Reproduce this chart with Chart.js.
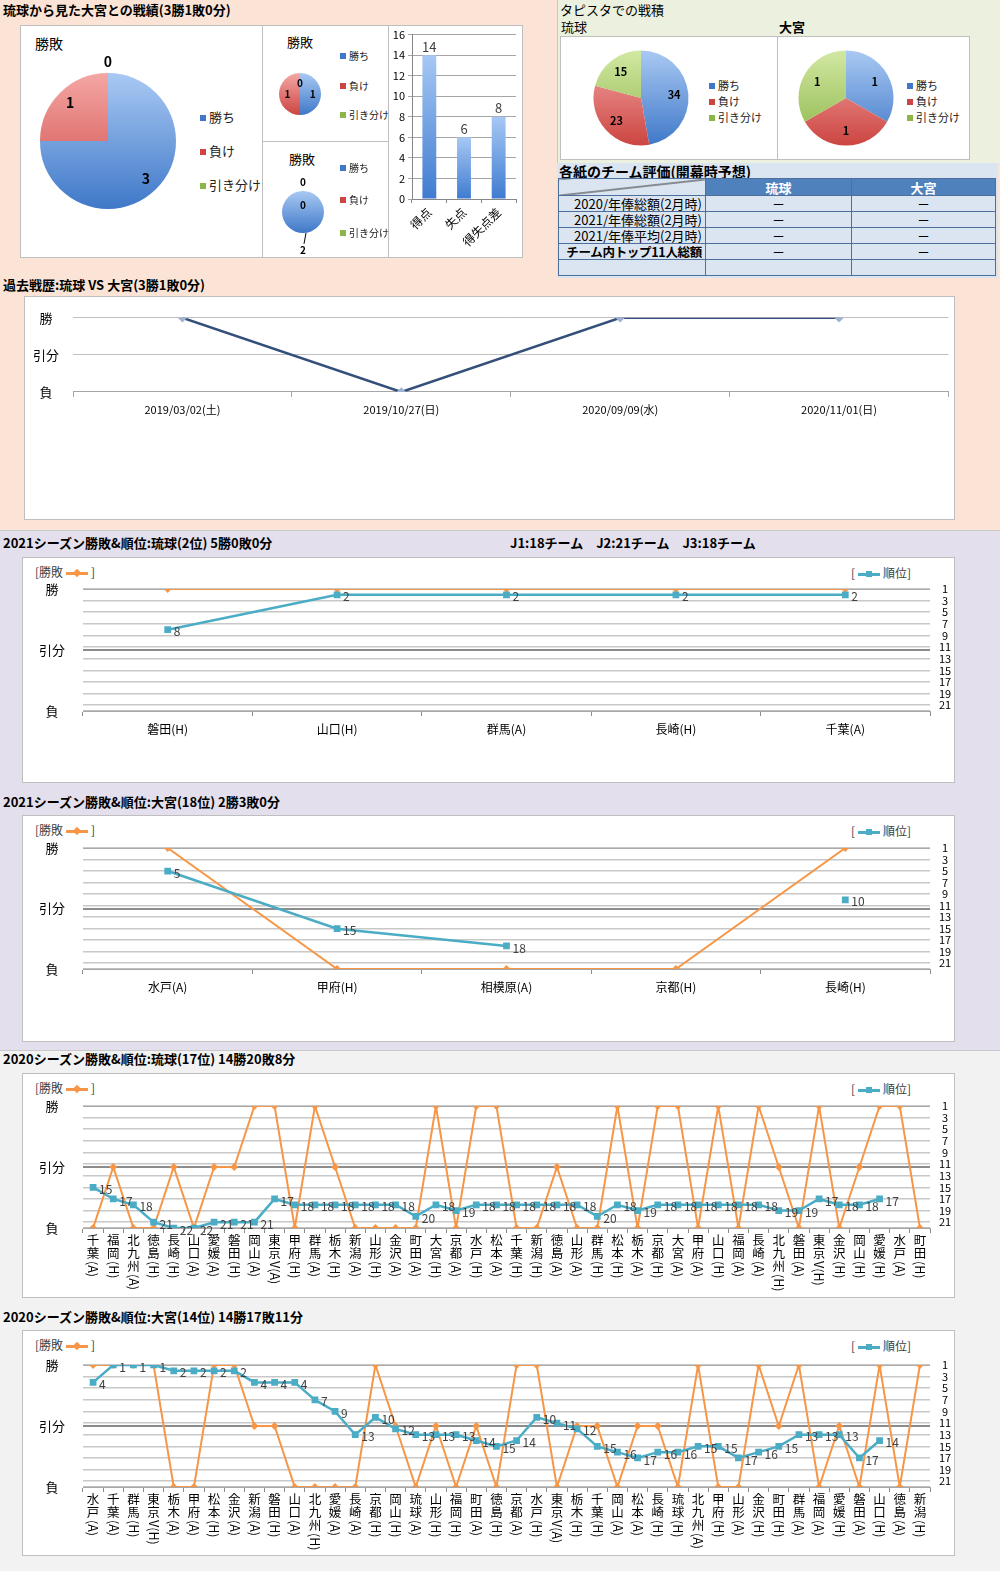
<!DOCTYPE html>
<html lang="ja">
<head>
<meta charset="utf-8">
<title>琉球 vs 大宮</title>
<script src="https://cdn.jsdelivr.net/npm/chart.js@4.4.1/dist/chart.umd.min.js"></script>
<style>
body { margin: 0; width: 1000px; height: 1571px; position: relative; overflow: hidden; font-family: "Noto Sans CJK JP", sans-serif; color: #000; }
.bg { position: absolute; }
.box { position: absolute; background: #fff; border: 1px solid #bfbfbf; box-sizing: border-box; }
.ttl { position: absolute; font-weight: bold; font-size: 13px; line-height: 18px; white-space: nowrap; }
.txt { position: absolute; font-size: 13px; line-height: 18px; white-space: nowrap; }
.lg { position: absolute; font-size: 11px; line-height: 14px; white-space: nowrap; color: #222; }
.lg i { display: inline-block; width: 6px; height: 6px; margin-right: 3px; vertical-align: 1px; }
.slg { position: absolute; font-size: 12px; line-height: 16px; white-space: nowrap; color: #404040; }
.mk { display: inline-block; position: relative; width: 22px; height: 10px; vertical-align: -1px; margin: 0 3px; }
.mk b { position: absolute; left: 0; right: 0; top: 4px; height: 3px; }
.mk s { position: absolute; left: 8px; top: 2px; width: 6px; height: 6px; }
canvas { position: absolute; }
#hyoka { position: absolute; left: 558px; top: 178px; border-collapse: collapse; font-size: 13px; table-layout: fixed; }
#hyoka td { border: 1px solid #4d6f9c; padding: 0; height: 15px; line-height: 15px; background: #dbe5f1; text-align: center; white-space: nowrap; overflow: hidden; }
#hyoka td.rh { text-align: right; padding-right: 3px; }
#hyoka td.hd { background: #4f81bd; color: #fff; font-weight: bold; }
</style>
</head>
<body>
<div class="bg" style="left:0;top:0;width:1000px;height:530px;background:#fbe4d5"></div>
<div class="bg" style="left:557px;top:0;width:443px;height:163px;background:#ebf1de;border-left:1px solid #c9c9c9"></div>
<div class="bg" style="left:557px;top:163px;width:441px;height:115px;background:#dbe5f1"></div>
<div class="bg" style="left:0;top:530px;width:1000px;height:520px;background:#e4dfec;border-top:1px solid #c9c9c9"></div>
<div class="bg" style="left:0;top:1050px;width:1000px;height:521px;background:#f2f2f2;border-top:1px solid #c9c9c9"></div>

<div class="ttl" style="left:3px;top:1px">琉球から見た大宮との戦績(3勝1敗0分)</div>
<div class="txt" style="left:560px;top:1px">タピスタでの戦積</div>
<div class="txt" style="left:561px;top:18px">琉球</div>
<div class="ttl" style="left:779px;top:18px">大宮</div>
<div class="ttl" style="left:559px;top:162px;font-size:14px">各紙のチーム評価(開幕時予想)</div>
<div class="ttl" style="left:3px;top:276px">過去戦歴:琉球 VS 大宮(3勝1敗0分)</div>
<div class="ttl" style="left:3px;top:534px">2021シーズン勝敗&amp;順位:琉球(2位) 5勝0敗0分</div>
<div class="ttl" style="left:510px;top:534px">J1:18チーム　J2:21チーム　J3:18チーム</div>
<div class="ttl" style="left:3px;top:793px">2021シーズン勝敗&amp;順位:大宮(18位) 2勝3敗0分</div>
<div class="ttl" style="left:3px;top:1050px">2020シーズン勝敗&amp;順位:琉球(17位) 14勝20敗8分</div>
<div class="ttl" style="left:3px;top:1308px">2020シーズン勝敗&amp;順位:大宮(14位) 14勝17敗11分</div>

<div class="box" style="left:20px;top:25px;width:243px;height:233px"></div>
<div class="box" style="left:262px;top:25px;width:127px;height:117px"></div>
<div class="box" style="left:262px;top:141px;width:127px;height:117px"></div>
<div class="box" style="left:388px;top:25px;width:135px;height:233px"></div>
<div class="box" style="left:560px;top:36px;width:218px;height:124px"></div>
<div class="box" style="left:777px;top:36px;width:193px;height:124px"></div>
<div class="box" style="left:24px;top:296px;width:931px;height:224px"></div>
<div class="box" style="left:22px;top:557px;width:933px;height:226px"></div>
<div class="box" style="left:22px;top:815px;width:933px;height:227px"></div>
<div class="box" style="left:22px;top:1073px;width:933px;height:225px"></div>
<div class="box" style="left:22px;top:1330px;width:933px;height:226px"></div>

<div class="txt" style="left:35px;top:34px;font-size:14px">勝敗</div>
<div class="txt" style="left:287px;top:33px">勝敗</div>
<div class="txt" style="left:289px;top:150px">勝敗</div>

<table id="hyoka"></table>

<script>
// 勝敗の内訳
const pieLabels = ['勝ち', '負け', '引き分け'];
const vsTotal = [3, 1, 0];
const vsHome = [1, 1, 0];
const vsAway = [2, 0, 0];

const scoreLabels = ['得点', '失点', '得失点差'];
const scoreValues = [14, 6, 8];

// タピスタでの戦積
const tapistaRyukyu = [34, 23, 15];
const tapistaOmiya = [1, 1, 1];

const hyokaTeams = ['琉球', '大宮'];
const hyokaRows = ['2020/年俸総額(2月時)', '2021/年俸総額(2月時)', '2021/年俸平均(2月時)', 'チーム内トップ11人総額', ''];
const hyokaValues = [['－', '－'], ['－', '－'], ['－', '－'], ['－', '－'], ['', '']];

// 過去戦歴 (2=勝 1=引分 0=負)
const pastDates = ['2019/03/02(土)', '2019/10/27(日)', '2020/09/09(水)', '2020/11/01(日)'];
const pastResults = [2, 0, 2, 2];

const wlTicks = ['負', '引分', '勝'];
const rankTicks = [1, 3, 5, 7, 9, 11, 13, 15, 17, 19, 21];

const ryukyu2021Games = ['磐田(H)', '山口(H)', '群馬(A)', '長崎(H)', '千葉(A)'];
const ryukyu2021Results = [2, 2, 2, 2, 2];
const ryukyu2021Rank = [8, 2, 2, 2, 2];

const omiya2021Games = ['水戸(A)', '甲府(H)', '相模原(A)', '京都(H)', '長崎(H)'];
const omiya2021Results = [2, 0, 0, 0, 2];
const omiya2021Rank = [5, 15, 18, null, 10];

const ryukyu2020Games = ['千葉(A)', '福岡(H)', '北九州(A)', '徳島(H)', '長崎(H)', '山口(A)', '愛媛(A)', '磐田(H)', '岡山(A)', '東京V(A)',
  '甲府(H)', '群馬(A)', '栃木(H)', '新潟(A)', '山形(H)', '金沢(A)', '町田(A)', '大宮(H)', '京都(A)', '水戸(H)',
  '松本(A)', '千葉(H)', '新潟(H)', '徳島(A)', '山形(A)', '群馬(H)', '松本(H)', '栃木(A)', '京都(H)', '大宮(A)',
  '甲府(A)', '山口(H)', '福岡(A)', '長崎(A)', '北九州(H)', '磐田(A)', '東京V(H)', '金沢(H)', '岡山(H)', '愛媛(H)',
  '水戸(A)', '町田(H)'];
const ryukyu2020Results = [0, 1, 0, 0, 1, 0, 1, 1, 2, 2,
  0, 2, 1, 0, 0, 0, 0, 2, 0, 2,
  2, 0, 0, 1, 0, 0, 2, 0, 2, 2,
  0, 2, 0, 2, 1, 0, 2, 0, 1, 2,
  2, 0];
const ryukyu2020Rank = [15, 17, 18, 21, 22, 22, 21, 21, 21, 17,
  18, 18, 18, 18, 18, 18, 20, 18, 19, 18,
  18, 18, 18, 18, 18, 20, 18, 19, 18, 18,
  18, 18, 18, 18, 19, 19, 17, 18, 18, 17,
  null, null];

const omiya2020Games = ['水戸(A)', '千葉(A)', '群馬(H)', '東京V(H)', '栃木(A)', '甲府(A)', '松本(H)', '金沢(A)', '新潟(A)', '磐田(H)',
  '山口(A)', '北九州(H)', '愛媛(A)', '長崎(A)', '京都(H)', '岡山(H)', '琉球(A)', '山形(H)', '福岡(H)', '町田(A)',
  '徳島(H)', '京都(A)', '水戸(H)', '東京V(A)', '栃木(H)', '千葉(H)', '岡山(A)', '松本(A)', '長崎(H)', '琉球(H)',
  '北九州(A)', '甲府(H)', '山形(A)', '金沢(H)', '町田(H)', '群馬(A)', '福岡(A)', '愛媛(H)', '磐田(A)', '山口(H)',
  '徳島(A)', '新潟(H)'];
const omiya2020Results = [2, 2, 2, 2, 0, 0, 2, 2, 1, 1,
  0, 0, 0, 0, 2, 1, 0, 1, 0, 1,
  0, 2, 2, 0, 1, 1, 0, 1, 1, 0,
  2, 0, 0, 2, 1, 2, 0, 1, 0, 2,
  0, 2];
const omiya2020Rank = [4, 1, 1, 1, 2, 2, 2, 2, 4, 4,
  4, 7, 9, 13, 10, 12, 13, 13, 13, 14,
  15, 14, 10, 11, 12, 15, 16, 17, 16, 16,
  15, 15, 17, 16, 15, 13, 13, 13, 17, 14,
  null, null];

const ORANGE = '#f79646';
const BLUE = '#4bacc6';
const sliceColors = [['#a9c9f3', '#3f78c8'], ['#f4a7a5', '#cc4541'], ['#d2e8a3', '#8cb648']];

Chart.defaults.font.family = '"Noto Sans CJK JP", sans-serif';
Chart.defaults.color = '#000';
Chart.defaults.animation = false;
Chart.defaults.responsive = false;
Chart.defaults.plugins.legend.display = false;
Chart.defaults.plugins.tooltip.enabled = false;

function canvasAt(x, y, w, h) {
    const c = document.createElement('canvas');
    c.width = w;
    c.height = h;
    c.style.left = x + 'px';
    c.style.top = y + 'px';
    c.style.width = w + 'px';
    c.style.height = h + 'px';
    document.body.appendChild(c);
    return c;
}

function addHtml(html) {
    document.body.insertAdjacentHTML('beforeend', html);
}

// 円グラフの数値ラベル
const pieValueLabels = {
    id: 'pieValueLabels',
    afterDatasetsDraw(chart, args, opts) {
        const ctx = chart.ctx;
        const data = chart.data.datasets[0].data;
        ctx.save();
        ctx.font = opts.font;
        ctx.fillStyle = '#000';
        ctx.strokeStyle = '#000';
        ctx.textAlign = 'center';
        ctx.textBaseline = 'middle';
        chart.getDatasetMeta(0).data.forEach((arc, i) => {
            const mid = (arc.startAngle + arc.endAngle) / 2;
            const r = arc.outerRadius * opts.factors[i];
            const x = arc.x + Math.cos(mid) * r;
            const y = arc.y + Math.sin(mid) * r;
            if (opts.leader && opts.leader[i]) {
                ctx.lineWidth = 1;
                ctx.beginPath();
                ctx.moveTo(arc.x + Math.cos(mid) * arc.outerRadius + 3, arc.y + Math.sin(mid) * arc.outerRadius);
                ctx.lineTo(x + 1, y - 6);
                ctx.stroke();
            }
            ctx.fillText(String(data[i]), x, y);
        });
        ctx.restore();
    }
};

function sliceFill(size, r) {
    return (c) => {
        const pair = sliceColors[c.dataIndex] || sliceColors[0];
        const g = c.chart.ctx.createLinearGradient(0, size / 2 - r, 0, size / 2 + r);
        g.addColorStop(0, pair[0]);
        g.addColorStop(1, pair[1]);
        return g;
    };
}

function pie(cx, cy, size, r, values, labelOpts) {
    new Chart(canvasAt(cx - size / 2, cy - size / 2, size, size), {
        type: 'pie',
        data: {
            labels: pieLabels,
            datasets: [{ data: values, radius: r, borderWidth: 0, backgroundColor: sliceFill(size, r) }]
        },
        plugins: [pieValueLabels],
        options: { plugins: { pieValueLabels: labelOpts } }
    });
}

function pieLegend(x, ys, size) {
    pieLabels.forEach((lab, i) => {
        addHtml('<div class="lg" style="left:' + x + 'px;top:' + (ys[i] - 7) + 'px;font-size:' + size + 'px">' +
            '<i style="background:' + sliceColors[i][1] + '"></i>' + lab + '</div>');
    });
}

pie(108, 141, 180, 68, vsTotal, { factors: [0.79, 0.79, 1.16], font: 'bold 14px "Noto Sans CJK JP"' });
pieLegend(200, [117, 151, 185], 13);
pie(300, 94, 70, 21, vsHome, { factors: [0.6, 0.6, 0.5], font: 'bold 10px "Noto Sans CJK JP"' });
pieLegend(340, [56, 86, 115], 10);
pie(303, 212, 90, 21, vsAway, { factors: [1.8, 0.3, 1.4], leader: [true, false, false], font: 'bold 10px "Noto Sans CJK JP"' });
pieLegend(340, [168, 200, 233], 10);

pie(641, 98, 110, 47.5, tapistaRyukyu, { factors: [0.7, 0.7, 0.7], font: 'bold 11px "Noto Sans CJK JP"' });
pieLegend(709, [85, 101, 117], 11);
pie(846, 98, 110, 47.5, tapistaOmiya, { factors: [0.7, 0.7, 0.7], font: 'bold 11px "Noto Sans CJK JP"' });
pieLegend(907, [85, 101, 117], 11);

// 得点・失点
const barValueLabels = {
    id: 'barValueLabels',
    afterDatasetsDraw(chart) {
        const ctx = chart.ctx;
        const data = chart.data.datasets[0].data;
        ctx.save();
        ctx.font = '13px "Noto Sans CJK JP"';
        ctx.fillStyle = '#404040';
        ctx.textAlign = 'center';
        ctx.textBaseline = 'bottom';
        chart.getDatasetMeta(0).data.forEach((bar, i) => ctx.fillText(String(data[i]), bar.x, bar.y - 2));
        ctx.restore();
    }
};

new Chart(canvasAt(388, 25, 135, 232), {
    type: 'bar',
    data: {
        labels: scoreLabels,
        datasets: [{
            data: scoreValues,
            categoryPercentage: 1,
            barPercentage: 0.4,
            backgroundColor(c) {
                const y = c.chart.scales.y;
                if (!y || c.raw == null) return '#4f81bd';
                const top = y.getPixelForValue(c.raw);
                const bottom = y.getPixelForValue(0);
                if (!isFinite(top) || !isFinite(bottom) || top === bottom) return '#4f81bd';
                const g = c.chart.ctx.createLinearGradient(0, top, 0, bottom);
                g.addColorStop(0, '#a6c8f4');
                g.addColorStop(1, '#3f7bd0');
                return g;
            }
        }]
    },
    plugins: [barValueLabels],
    options: {
        layout: { padding: { top: 9, right: 7, left: 0, bottom: 0 } },
        scales: {
            x: {
                grid: { drawOnChartArea: false, offset: true, tickLength: 4, color: '#868686' },
                border: { color: '#868686' },
                ticks: { minRotation: 45, maxRotation: 45, font: { size: 12 }, color: '#000', padding: 2 },
                afterFit(s) { s.height = 58; }
            },
            y: {
                min: 0,
                max: 16,
                ticks: { stepSize: 2, font: { size: 11 }, color: '#000', padding: 3 },
                grid: { color: '#a6a6a6', tickLength: 4 },
                border: { color: '#868686' },
                afterFit(s) { s.width = 24; }
            }
        }
    }
});

// 評価表
(function () {
    const t = document.getElementById('hyoka');
    let html = '<colgroup><col style="width:147px"><col style="width:146px"><col style="width:144px"></colgroup>';
    html += '<tr><td style="background:linear-gradient(to bottom right, #dbe5f1 calc(50% - 1px), #333 50%, #dbe5f1 calc(50% + 1px));height:16px"></td>';
    hyokaTeams.forEach(team => { html += '<td class="hd">' + team + '</td>'; });
    html += '</tr>';
    hyokaRows.forEach((row, i) => {
        const bold = row.indexOf('トップ') >= 0 ? 'font-weight:bold;font-size:12.5px;letter-spacing:-0.3px;' : '';
        html += '<tr><td class="rh" style="' + bold + '">' + row + '</td>';
        hyokaValues[i].forEach(v => { html += '<td>' + v + '</td>'; });
        html += '</tr>';
    });
    t.innerHTML = html;
})();

// 過去戦歴
new Chart(canvasAt(24, 296, 931, 224), {
    type: 'line',
    data: {
        labels: pastDates,
        datasets: [{
            data: pastResults,
            borderColor: '#34507a',
            borderWidth: 2.5,
            pointStyle: 'rectRot',
            pointRadius: 3,
            pointBackgroundColor: '#9fb3d1',
            pointBorderColor: '#9fb3d1'
        }]
    },
    options: {
        layout: { padding: { top: 14, right: 3, bottom: 103, left: 0 } },
        scales: {
            x: {
                offset: true,
                grid: { drawOnChartArea: false, offset: true, tickLength: 5, color: '#a6a6a6' },
                border: { color: '#a6a6a6' },
                ticks: { font: { size: 11 }, color: '#000', padding: 6, maxRotation: 0 },
                afterFit(s) { s.height = 25; }
            },
            y: {
                min: 0,
                max: 2,
                ticks: { stepSize: 1, callback: v => wlTicks[v], font: { size: 13 }, color: '#000', crossAlign: 'center', padding: 14 },
                grid: { color: '#bfbfbf', drawTicks: false },
                border: { display: false },
                afterFit(s) { s.width = 49; }
            }
        }
    }
});

// 順位ラベル
const rankValueLabels = {
    id: 'rankValueLabels',
    afterDatasetsDraw(chart) {
        const ctx = chart.ctx;
        const data = chart.data.datasets[1].data;
        ctx.save();
        ctx.font = '12px "Noto Sans CJK JP"';
        ctx.fillStyle = '#404040';
        ctx.textAlign = 'left';
        ctx.textBaseline = 'middle';
        chart.getDatasetMeta(1).data.forEach((pt, i) => {
            if (data[i] == null) return;
            ctx.fillText(String(data[i]), pt.x + 6, pt.y + 2);
        });
        ctx.restore();
    }
};

// 縦書きの対戦相手ラベル
const tateLabels = {
    id: 'tateLabels',
    afterDraw(chart, args, opts) {
        if (!opts.on) return;
        const xs = chart.scales.x;
        const ctx = chart.ctx;
        ctx.save();
        ctx.font = '12.5px "Noto Sans CJK JP"';
        ctx.fillStyle = '#000';
        chart.data.labels.forEach((lab, i) => {
            const x = xs.getPixelForValue(i);
            let y = xs.top + 6;
            const cut = lab.search(/[A-Za-z(]/);
            const kanji = lab.slice(0, cut);
            const rest = lab.slice(cut);
            ctx.textAlign = 'center';
            ctx.textBaseline = 'top';
            for (const ch of kanji) {
                ctx.fillText(ch, x, y);
                y += 13;
            }
            ctx.save();
            ctx.translate(x, y + 1);
            ctx.rotate(Math.PI / 2);
            ctx.textAlign = 'left';
            ctx.textBaseline = 'middle';
            ctx.fillText(rest, 0, 0);
            ctx.restore();
        });
        ctx.restore();
    }
};

function seasonChart(boxTop, boxH, plotTop, plotBottom, games, results, ranks, vertical) {
    const xHeight = vertical ? 66 : 30;
    addHtml('<div class="slg" style="left:35px;top:' + (boxTop + 7) + 'px">[勝敗<span class="mk"><b style="background:' + ORANGE +
        '"></b><s style="background:' + ORANGE + ';transform:rotate(45deg)"></s></span>]</div>');
    addHtml('<div class="slg" style="left:851px;top:' + (boxTop + 8) + 'px">[<span class="mk"><b style="background:' + BLUE +
        '"></b><s style="background:' + BLUE + '"></s></span>順位]</div>');
    new Chart(canvasAt(22, boxTop, 933, boxH), {
        type: 'line',
        data: {
            labels: games,
            datasets: [{
                label: '勝敗',
                data: results,
                yAxisID: 'y',
                borderColor: ORANGE,
                backgroundColor: ORANGE,
                pointBorderColor: ORANGE,
                borderWidth: 2,
                pointStyle: 'rectRot',
                pointRadius: 2.5,
                order: 2
            }, {
                label: '順位',
                data: ranks,
                yAxisID: 'y2',
                borderColor: BLUE,
                backgroundColor: BLUE,
                pointBorderColor: BLUE,
                borderWidth: 2.5,
                pointStyle: 'rect',
                pointRadius: 3,
                spanGaps: false,
                order: 1
            }]
        },
        plugins: [rankValueLabels, tateLabels],
        options: {
            layout: { padding: { top: plotTop - boxTop, bottom: boxH - (plotBottom - boxTop) - xHeight, left: 0, right: 0 } },
            plugins: { tateLabels: { on: vertical } },
            scales: {
                x: {
                    offset: true,
                    grid: { drawOnChartArea: false, offset: true, tickLength: 5, color: '#8c8c8c' },
                    border: { color: '#a6a6a6' },
                    ticks: { display: !vertical, font: { size: 12 }, color: '#000', padding: 6, maxRotation: 0, autoSkip: false },
                    afterFit(s) { s.height = xHeight; }
                },
                y: {
                    position: 'left',
                    min: 0,
                    max: 2,
                    ticks: { stepSize: 1, callback: v => wlTicks[v], font: { size: 13 }, color: '#000', crossAlign: 'center', padding: 18 },
                    grid: { color: c => (c.tick && c.tick.value === 0 ? '#bfbfbf' : '#8c8c8c'), lineWidth: 2, drawTicks: false },
                    border: { display: false },
                    afterFit(s) { s.width = 61; }
                },
                y2: {
                    position: 'right',
                    reverse: true,
                    min: 1,
                    max: 22,
                    afterBuildTicks(s) { s.ticks = rankTicks.map(v => ({ value: v })); },
                    ticks: { font: { size: 11 }, color: '#000', crossAlign: 'center', padding: 9, autoSkip: false },
                    grid: { color: '#c8c8c8', lineWidth: 1.5, drawTicks: false },
                    border: { display: false },
                    afterFit(s) { s.width = 25; }
                }
            }
        }
    });
}

seasonChart(557, 226, 589, 711, ryukyu2021Games, ryukyu2021Results, ryukyu2021Rank, false);
seasonChart(815, 227, 848, 969, omiya2021Games, omiya2021Results, omiya2021Rank, false);
seasonChart(1073, 225, 1106, 1228, ryukyu2020Games, ryukyu2020Results, ryukyu2020Rank, true);
seasonChart(1330, 226, 1365, 1487, omiya2020Games, omiya2020Results, omiya2020Rank, true);
</script>
</body>
</html>
